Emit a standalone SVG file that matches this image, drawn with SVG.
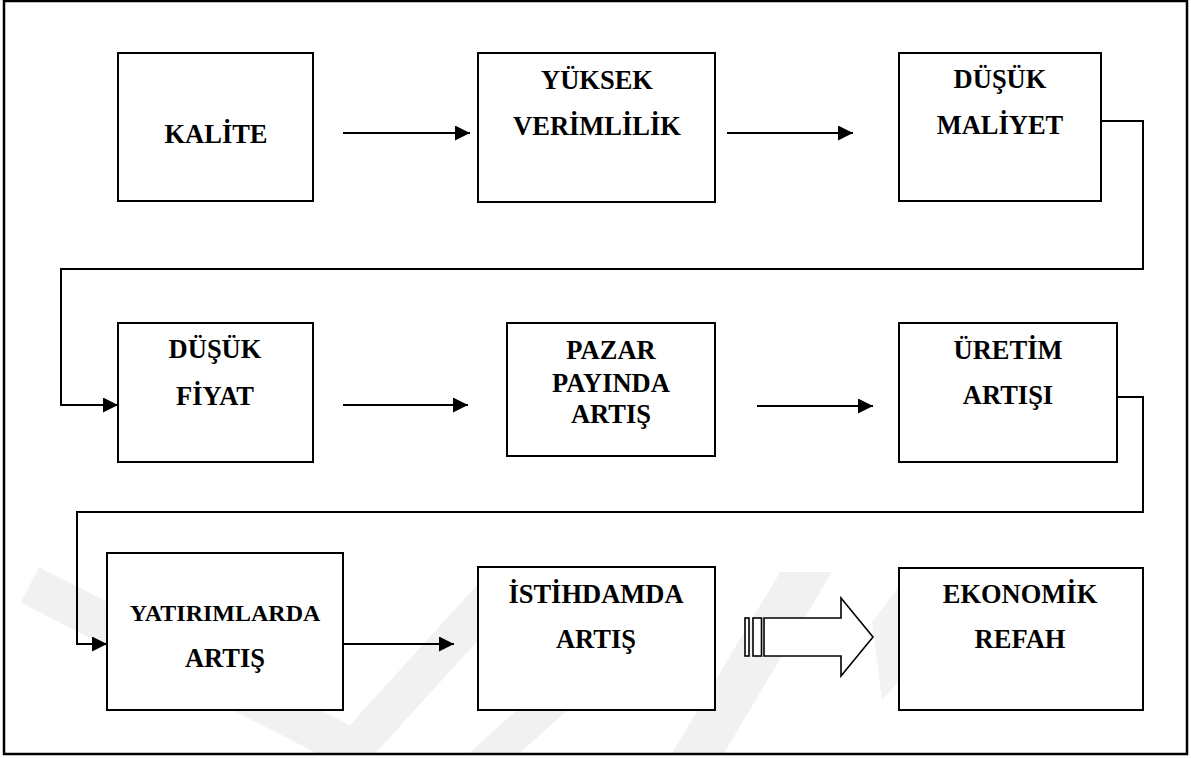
<svg xmlns="http://www.w3.org/2000/svg" width="1191" height="758" viewBox="0 0 1191 758">
<style>
.box{fill:#fff;stroke:#000;stroke-width:2}
.lbl{font-family:"Liberation Serif",serif;font-weight:bold;font-size:26.5px;fill:#000;text-anchor:middle}
.conn{fill:none;stroke:#000;stroke-width:2}
.wm{stroke:#f1f1f1;fill:none;stroke-linecap:butt}
</style>
<defs>
<marker id="ah" markerUnits="userSpaceOnUse" markerWidth="16" markerHeight="15" refX="15" refY="7.5" orient="auto">
<path d="M0,0 L15,7.5 L0,15 z" fill="#000"/>
</marker>
<clipPath id="fr"><rect x="5" y="2" width="1181" height="751"/></clipPath>
</defs>
<rect x="0" y="0" width="1191" height="758" fill="#fff"/>
<g id="watermark" clip-path="url(#fr)">
<line class="wm" x1="30" y1="585" x2="345" y2="745" stroke-width="40"/>
<line class="wm" x1="330" y1="775" x2="500" y2="588" stroke-width="38"/>
<line class="wm" x1="470" y1="775" x2="570" y2="685" stroke-width="34"/>
<polygon points="780,572 832,572 720,760 668,760" fill="#f1f1f1"/>
<polygon points="872,622 900,585 900,680 882,700" fill="#f3f3f3"/>
</g>
<rect x="4" y="1" width="1183" height="753" fill="none" stroke="#000" stroke-width="2.5"/>
<g id="connectors">
<path class="conn" d="M343,133 H470" marker-end="url(#ah)"/>
<path class="conn" d="M727,133 H853" marker-end="url(#ah)"/>
<path class="conn" d="M1101,121 H1143 V269 H61 V405 H118" marker-end="url(#ah)"/>
<path class="conn" d="M343,405 H468" marker-end="url(#ah)"/>
<path class="conn" d="M757,406 H873" marker-end="url(#ah)"/>
<path class="conn" d="M1117,397 H1143 V512 H77 V644 H107" marker-end="url(#ah)"/>
<path class="conn" d="M343,644 H454" marker-end="url(#ah)"/>
<g id="blockarrow" fill="#fff" stroke="#000" stroke-width="1.6">
<rect x="745" y="618" width="4" height="38"/>
<rect x="753" y="618" width="8.5" height="38"/>
<polygon points="764,618 841,618 841,598 873,637 841,676 841,656 764,656"/>
</g>
</g>
<g id="n1"><rect class="box" x="118" y="53" width="195" height="148"/><text class="lbl" x="216" y="143">KALİTE</text></g>
<g id="n2"><rect class="box" x="478" y="53" width="237" height="149"/><text class="lbl" x="597" y="89">YÜKSEK</text><text class="lbl" x="597" y="135">VERİMLİLİK</text></g>
<g id="n3"><rect class="box" x="899" y="53" width="202" height="148"/><text class="lbl" x="1000" y="88">DÜŞÜK</text><text class="lbl" x="1000" y="134">MALİYET</text></g>
<g id="n4"><rect class="box" x="118" y="323" width="195" height="139"/><text class="lbl" x="215" y="358">DÜŞÜK</text><text class="lbl" x="215" y="405">FİYAT</text></g>
<g id="n5"><rect class="box" x="507" y="323" width="208" height="133"/><text class="lbl" x="611" y="359">PAZAR</text><text class="lbl" x="611" y="392">PAYINDA</text><text class="lbl" x="611" y="423">ARTIŞ</text></g>
<g id="n6"><rect class="box" x="899" y="323" width="218" height="139"/><text class="lbl" x="1008" y="359">ÜRETİM</text><text class="lbl" x="1008" y="404">ARTIŞI</text></g>
<g id="n7"><rect class="box" x="107" y="553" width="236" height="157"/><text class="lbl" x="225" y="621" style="font-size:24px">YATIRIMLARDA</text><text class="lbl" x="225" y="667">ARTIŞ</text></g>
<g id="n8"><rect class="box" x="478" y="567" width="237" height="143"/><text class="lbl" x="596" y="603">İSTİHDAMDA</text><text class="lbl" x="596" y="648">ARTIŞ</text></g>
<g id="n9"><rect class="box" x="899" y="568" width="244" height="142"/><text class="lbl" x="1020" y="603">EKONOMİK</text><text class="lbl" x="1020" y="648">REFAH</text></g>
</svg>
